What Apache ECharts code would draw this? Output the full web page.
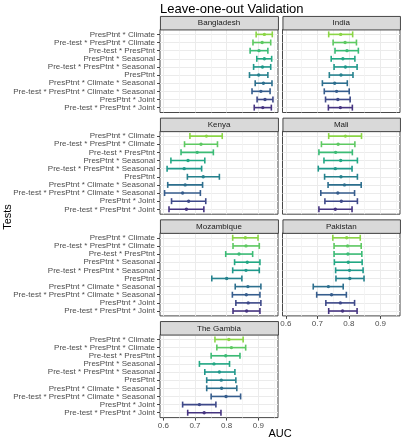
<!DOCTYPE html>
<html><head><meta charset="utf-8">
<script src="https://cdn.jsdelivr.net/npm/echarts@6/dist/echarts.min.js"></script>
<style>html,body{margin:0;padding:0;background:#fff}#c{width:401px;height:440px}</style>
</head><body><div id="c"></div>
<script>
const tests = ['PresPtnt * Climate','Pre-test * PresPtnt * Climate','Pre-test * PresPtnt','PresPtnt * Seasonal','Pre-test * PresPtnt * Seasonal','PresPtnt','PresPtnt * Climate * Seasonal','Pre-test * PresPtnt * Climate * Seasonal','PresPtnt * Joint','Pre-test * PresPtnt * Joint'];
const countries = ['Bangladesh','India','Kenya','Mali','Mozambique','Pakistan','The Gambia'];
const xTicks = [0.6, 0.7, 0.8, 0.9];
const xMinorTicks = [0.65, 0.75, 0.85, 0.95];
// [lower, AUC, upper] per test, in the order of tests
const bangladesh = [[0.893,0.919,0.944],[0.883,0.912,0.939],[0.874,0.902,0.930],[0.895,0.919,0.942],[0.885,0.913,0.939],[0.872,0.901,0.930],[0.890,0.916,0.943],[0.880,0.908,0.937],[0.896,0.921,0.946],[0.887,0.914,0.941]];
const india = [[0.736,0.774,0.812],[0.750,0.788,0.824],[0.756,0.794,0.830],[0.744,0.781,0.819],[0.753,0.789,0.826],[0.738,0.775,0.813],[0.716,0.755,0.795],[0.722,0.761,0.801],[0.726,0.765,0.804],[0.735,0.773,0.811]];
const kenya = [[0.684,0.736,0.786],[0.667,0.719,0.771],[0.656,0.707,0.758],[0.624,0.678,0.731],[0.612,0.666,0.721],[0.676,0.726,0.777],[0.614,0.669,0.724],[0.604,0.661,0.717],[0.626,0.680,0.734],[0.618,0.673,0.728]];
const mali = [[0.736,0.789,0.840],[0.713,0.766,0.819],[0.705,0.758,0.811],[0.721,0.774,0.827],[0.703,0.757,0.810],[0.723,0.775,0.827],[0.734,0.786,0.839],[0.711,0.765,0.818],[0.724,0.776,0.827],[0.705,0.757,0.810]];
const mozambique = [[0.819,0.859,0.899],[0.820,0.861,0.903],[0.797,0.839,0.882],[0.825,0.865,0.905],[0.819,0.861,0.903],[0.753,0.800,0.848],[0.827,0.867,0.908],[0.818,0.862,0.905],[0.829,0.868,0.908],[0.820,0.863,0.905]];
const pakistan = [[0.749,0.793,0.836],[0.753,0.796,0.839],[0.753,0.797,0.841],[0.754,0.798,0.842],[0.758,0.802,0.845],[0.759,0.803,0.848],[0.687,0.735,0.782],[0.698,0.745,0.792],[0.727,0.773,0.818],[0.736,0.780,0.826]];
const gambia = [[0.763,0.807,0.852],[0.769,0.815,0.860],[0.751,0.797,0.842],[0.714,0.760,0.809],[0.731,0.777,0.826],[0.737,0.783,0.829],[0.737,0.784,0.832],[0.751,0.798,0.844],[0.661,0.714,0.766],[0.677,0.729,0.782]];
const panelData = [bangladesh, india, kenya, mali, mozambique, pakistan, gambia];

const colors = ['#8BD646','#5EC962','#3BBB75','#22A884','#1F988B','#26828E','#2D6F8E','#365D8D','#3E4989','#463480'];

const FONT = 'Liberation Sans';
const X_MIN = 0.5896, X_MAX = 0.962;
const colLeft = [160, 282.5], colWidth = [118, 117.5];
const stripH = 13.5, panelH = 83, rowPitch = 101.7, firstStrip = 16;

const grids = [], xAxes = [], yAxes = [], series = [], graphics = [];
countries.forEach((name, i) => {
  const col = i % 2, row = Math.floor(i / 2);
  const stripTop = firstStrip + row * rowPitch;
  const top = stripTop + stripH;
  const left = colLeft[col], width = colWidth[col];
  const showX = (i === 5 || i === 6);
  const showY = col === 0;
  grids.push({left, top, width, height: panelH, show: true, backgroundColor: '#fff', borderColor: '#333333', borderWidth: 0.9, containLabel: false});
  xAxes.push({type: 'value', gridIndex: i, min: X_MIN, max: X_MAX, position: 'bottom',
    axisLine: {show: false, onZero: false},
    axisTick: {show: showX, length: 3, lineStyle: {color: '#333333', width: 0.9}, customValues: xTicks},
    axisLabel: {show: showX, customValues: xTicks, margin: 4, color: '#4D4D4D', fontSize: 8, fontFamily: FONT, formatter: v => v.toFixed(1)},
    splitLine: {show: true, lineStyle: {color: '#EBEBEB', width: 1}}
  });
  xAxes.push({type: 'value', gridIndex: i, min: X_MIN, max: X_MAX, position: 'bottom',
    axisLine: {show: false, onZero: false},
    axisTick: {show: false, customValues: xMinorTicks},
    axisLabel: {show: false, customValues: xMinorTicks},
    splitLine: {show: true, lineStyle: {color: '#F2F2F2', width: 0.8}}
  });
  const idxs = tests.map((t, k) => k);
  yAxes.push({type: 'value', gridIndex: i, min: -0.6, max: 9.6, inverse: true, position: 'left',
    axisLine: {show: false, onZero: false},
    axisTick: {show: showY, length: 3, lineStyle: {color: '#333333', width: 0.9}, customValues: idxs},
    axisLabel: {show: showY, customValues: idxs, margin: 5, color: '#4D4D4D', fontSize: 8, fontFamily: FONT, formatter: v => tests[Math.round(v)]},
    splitLine: {show: true, lineStyle: {color: '#EBEBEB', width: 1}}
  });
  series.push({
    type: 'custom', xAxisIndex: 2 * i, yAxisIndex: i,
    data: panelData[i].map((d, k) => [d[0], d[1], d[2], k]),
    encode: {x: [0, 1, 2], y: 3},
    renderItem: (params, api) => {
      const k = api.value(3);
      const pLo = api.coord([api.value(0), k]);
      const pMid = api.coord([api.value(1), k]);
      const pHi = api.coord([api.value(2), k]);
      const c = colors[k];
      const cap = 3;
      const ls = {stroke: c, lineWidth: 1.6};
      return {type: 'group', children: [
        {type: 'line', shape: {x1: pLo[0], y1: pLo[1], x2: pHi[0], y2: pHi[1]}, style: ls},
        {type: 'line', shape: {x1: pLo[0], y1: pLo[1] - cap, x2: pLo[0], y2: pLo[1] + cap}, style: ls},
        {type: 'line', shape: {x1: pHi[0], y1: pHi[1] - cap, x2: pHi[0], y2: pHi[1] + cap}, style: ls},
        {type: 'circle', shape: {cx: pMid[0], cy: pMid[1], r: 1.7}, style: {fill: c}}
      ]};
    }
  });
  graphics.push({type: 'rect', left, top: stripTop, z: 10,
    shape: {width, height: stripH},
    style: {fill: '#D9D9D9', stroke: '#333333', lineWidth: 0.9}});
  graphics.push({type: 'text', x: left + width / 2, y: stripTop + stripH / 2 + 0.5, z: 11,
    style: {text: name, fill: '#1A1A1A', font: '8px "' + FONT + '"', textAlign: 'center', textVerticalAlign: 'middle'}});
});
graphics.push({type: 'text', x: 160, y: 9, z: 11,
  style: {text: 'Leave-one-out Validation', fill: '#000', font: '13px "' + FONT + '"', textAlign: 'left', textVerticalAlign: 'middle'}});
graphics.push({type: 'text', x: 280, y: 434, z: 11,
  style: {text: 'AUC', fill: '#000', font: '11px "' + FONT + '"', textAlign: 'center', textVerticalAlign: 'middle'}});
graphics.push({type: 'text', x: 8, y: 217, rotation: Math.PI / 2, z: 11,
  style: {text: 'Tests', fill: '#000', font: '11px "' + FONT + '"', textAlign: 'center', textVerticalAlign: 'middle'}});

const chart = echarts.init(document.getElementById('c'), null, {renderer: 'canvas'});
chart.setOption({
  animation: false,
  backgroundColor: '#fff',
  grid: grids, xAxis: xAxes, yAxis: yAxes, series, graphic: graphics
});
</script></body></html>
